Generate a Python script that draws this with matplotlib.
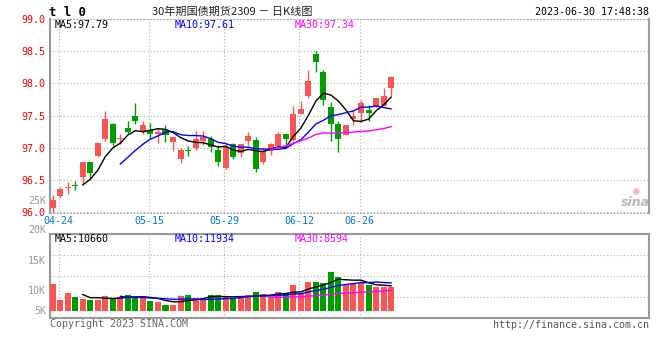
import numpy as np
import pandas as pd
import matplotlib
matplotlib.use("Agg")
import matplotlib.pyplot as plt

plt.rcParams['font.family'] = ['DejaVu Sans Mono', 'Noto Sans CJK SC']

# --- daily K data, T2309 (30y treasury futures) ---
dates = ["04-21", "04-24", "04-25", "04-26", "04-27", "04-28", "05-04", "05-05",
         "05-08", "05-09", "05-10", "05-11", "05-12", "05-15", "05-16", "05-17",
         "05-18", "05-19", "05-22", "05-23", "05-24", "05-25", "05-26", "05-29",
         "05-30", "05-31", "06-01", "06-02", "06-05", "06-06", "06-07", "06-08",
         "06-09", "06-12", "06-13", "06-14", "06-15", "06-16", "06-19", "06-20",
         "06-21", "06-26", "06-27", "06-28", "06-29", "06-30"]
opens = [96.06, 96.25, 96.38, 96.42, 96.55, 96.77, 96.87, 97.13, 97.37, 97.13,
         97.305, 97.50, 97.26, 97.28, 97.21, 97.28, 97.09, 96.82, 96.955, 96.99,
         97.10, 97.135, 96.96, 96.69, 97.05, 96.91, 97.10, 97.115, 96.78, 96.95,
         97.03, 97.21, 97.115, 97.53, 97.80, 98.45, 98.18, 97.64, 97.37, 97.20,
         97.44, 97.54, 97.59, 97.645, 97.655, 97.92]
highs = [96.27, 96.39, 96.46, 96.49, 96.78, 96.78, 97.09, 97.57, 97.38, 97.22,
         97.42, 97.69, 97.41, 97.39, 97.30, 97.35, 97.17, 97.00, 97.02, 97.26,
         97.26, 97.18, 97.04, 97.06, 97.08, 97.06, 97.25, 97.17, 96.99, 97.08,
         97.25, 97.21, 97.645, 97.73, 98.21, 98.51, 98.21, 97.71, 97.41, 97.35,
         97.58, 97.745, 97.66, 97.78, 97.93, 98.11]
lows = [95.98, 96.22, 96.28, 96.345, 96.43, 96.53, 96.86, 97.10, 97.02, 97.05,
        97.21, 97.37, 97.22, 97.13, 97.08, 97.09, 96.95, 96.76, 96.87, 96.97,
        97.04, 96.93, 96.71, 96.67, 96.82, 96.85, 97.04, 96.615, 96.75, 96.88,
        97.00, 97.05, 97.10, 97.52, 97.78, 98.17, 97.66, 97.10, 96.93, 97.20,
        97.35, 97.40, 97.41, 97.64, 97.645, 97.80]
closes = [96.18, 96.36, 96.39, 96.41, 96.77, 96.61, 97.08, 97.44, 97.08, 97.145,
          97.24, 97.42, 97.35, 97.21, 97.25, 97.20, 97.17, 96.96, 96.945, 97.14,
          97.17, 97.01, 96.78, 97.01, 96.85, 97.05, 97.18, 96.67, 96.95, 97.05,
          97.22, 97.13, 97.52, 97.605, 98.04, 98.33, 97.745, 97.37, 97.135, 97.35,
          97.49, 97.70, 97.54, 97.78, 97.81, 98.105]
volumes = [11600, 4700, 7700, 6000, 5100, 4800, 4800, 6400, 5500, 6000,
           6800, 5400, 6400, 4300, 3800, 2600, 2600, 6400, 6800, 5500,
           5100, 6800, 6800, 6400, 5100, 5700, 6800, 8100, 7200, 6000,
           8100, 7700, 11100, 7700, 12300, 12300, 11900, 16600, 14500, 11100,
           11500, 11900, 11100, 10200, 10200, 10200]

date_ticks = ["04-24", "05-15", "05-29", "06-12", "06-26"]
price_ticks = [96.0, 96.5, 97.0, 97.5, 98.0, 98.5, 99.0]
vol_labels = ["25K", "20K", "15K", "10K", "5K"]
price_ma_text = ["MA5:97.79", "MA10:97.61", "MA30:97.34"]
vol_ma_text = ["MA5:10660", "MA10:11934", "MA30:8594"]

RED = "#fa5555"
GREEN = "#009c00"
GRID = "#b0b0b0"
FRAME = "#999999"
MA_COLORS = ["black", "#0000ff", "#ff00ff"]

x = np.arange(len(dates))
o, h, l, c = map(np.array, (opens, highs, lows, closes))
colors = np.where(c >= o, RED, GREEN)
price_mas = [pd.Series(closes).rolling(n).mean() for n in (5, 10, 30)]
vol_mas = [pd.Series(volumes).rolling(n).mean() for n in (5, 10, 30)]

W, H = 660, 360
fig = plt.figure(figsize=(6.6, 3.6), dpi=100)


def box(left, top, right, bottom):
    return [left / W, 1 - bottom / H, (right - left) / W, (bottom - top) / H]


def px_text(px, py, s, **kw):
    fig.text(px / W, 1 - py / H, s, **kw)


ax = fig.add_axes(box(50, 19, 649, 213))
axv = fig.add_axes(box(50, 234, 649, 318), sharex=ax)

tick_pos = [dates.index(d) - 0.2 for d in date_ticks]

# --- candles ---
ax.vlines(x, l, h, colors=colors, lw=1, zorder=3)
ax.bar(x, np.maximum(np.abs(c - o), 0.012), bottom=np.minimum(o, c), width=0.8,
       color=colors, lw=0, zorder=3)
for ma, col in zip(price_mas, MA_COLORS):
    ax.plot(x, ma, color=col, lw=1, zorder=4)

ax.set_xlim(-0.36, 79.3)
ax.set_ylim(95.985, 99.0)
ax.set_yticks(price_ticks, [f"{v:.1f}" for v in price_ticks])
ax.set_xticks(tick_pos, date_ticks)
ax.tick_params(axis="y", length=0, pad=3, labelsize=7.2, labelcolor="red")
ax.tick_params(axis="x", length=0, pad=2.5, labelsize=7.2, labelcolor="#0077cc")
ax.grid(True, color=GRID, linestyle=(0, (1, 2)), lw=0.8, zorder=0)
for side in ("left", "right"):
    ax.spines[side].set_color(FRAME)
    ax.spines[side].set_linewidth(1.5)
for side in ("top", "bottom"):
    ax.spines[side].set_color(GRID)
    ax.spines[side].set_linestyle((0, (1, 2)))

# --- volume ---
axv.bar(x, volumes, width=0.8, color=colors, lw=0, zorder=3)
for ma, col in zip(vol_mas, MA_COLORS):
    axv.plot(x, ma, color=col, lw=1, zorder=4)
axv.set_ylim(-2980, 32770)
axv.set_yticks([])
axv.tick_params(axis="x", length=0, labelbottom=False)
axv.grid(True, axis="x", color=GRID, linestyle=(0, (1, 2)), lw=0.8, zorder=0)
axv.hlines([0.25, 0.5, 0.75], 0, 1, transform=axv.transAxes, color=GRID,
           linestyle=(0, (1, 2)), lw=0.8, zorder=0)
for sp in axv.spines.values():
    sp.set_color(FRAME)
    sp.set_linewidth(1.5)

for s, py in zip(vol_labels, [201, 230.5, 261, 291, 311]):
    px_text(46, py, s, ha="right", va="center", fontsize=7.2, color=FRAME)

# --- header / labels ---
px_text(49, 12, "t l 0", ha="left", va="center", fontsize=8.8, weight="bold")
px_text(232, 11.5, "30年期国债期货2309 － 日K线图", ha="center", va="center",
        fontsize=8, color="#222222", family=["Noto Sans CJK SC", "DejaVu Sans"])
px_text(649, 12, "2023-06-30 17:48:38", ha="right", va="center", fontsize=7.2)
for s, px, col in zip(price_ma_text, [55, 175, 295], MA_COLORS):
    px_text(px, 25, s, ha="left", va="center", fontsize=7.2, color=col)
for s, px, col in zip(vol_ma_text, [55, 175, 295], MA_COLORS):
    px_text(px, 238.5, s, ha="left", va="center", fontsize=7.2, color=col)

# sina watermark
px_text(636, 190, "◉", ha="center", va="center", fontsize=8, color="#f4a8a8")
px_text(635, 202, "sina", ha="center", va="center", fontsize=9, color="#b8b8b8",
        style="italic", weight="bold", family="DejaVu Sans")

px_text(50, 324, "Copyright 2023 SINA.COM", ha="left", va="center", fontsize=7.2,
        color="#666666")
px_text(649, 324.5, "http://finance.sina.com.cn", ha="right", va="center",
        fontsize=7.2, color="#555555")

fig.savefig("out.png", dpi=100)
